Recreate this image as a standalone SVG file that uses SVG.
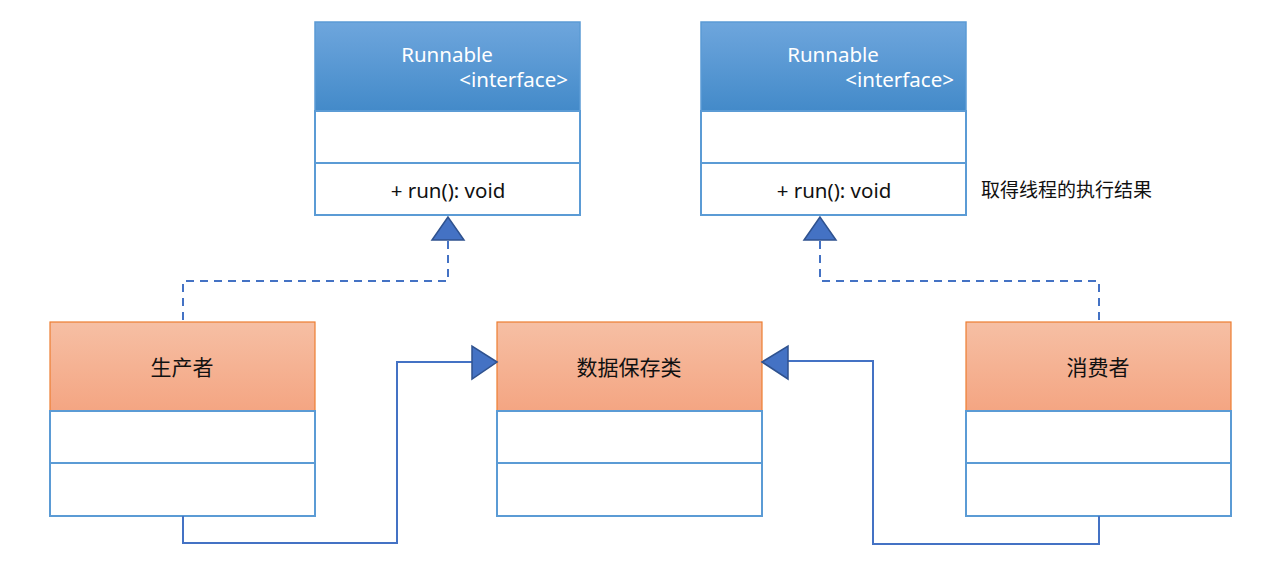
<svg xmlns="http://www.w3.org/2000/svg" width="1283" height="585" viewBox="0 0 1283 585">
<style>
text{font-family:"Noto Sans CJK SC","Noto Sans",sans-serif;}
.hdrB{fill:url(#gB);stroke:#5b9bd5;stroke-width:1.5}
.hdrO{fill:url(#gO);stroke:#ed7d31;stroke-width:1.2}
.box{fill:#fff;stroke:#5b9bd5;stroke-width:2}
.wt{fill:#fff;font-size:20.5px;font-family:"Noto Sans",sans-serif}
.lt{fill:#111;font-size:20.5px;font-family:"Noto Sans",sans-serif}
.bt{fill:#111;font-size:21px}
.dash{fill:none;stroke:#4472c4;stroke-width:2;stroke-dasharray:8,6}
.solid{fill:none;stroke:#4472c4;stroke-width:2}
.tri{fill:#4472c4;stroke:#2f528f;stroke-width:1.5}
</style>
<defs>
<linearGradient id="gB" x1="0" y1="0" x2="0" y2="1"><stop offset="0" stop-color="#6ea6dd"/><stop offset="1" stop-color="#438ac9"/></linearGradient>
<linearGradient id="gO" x1="0" y1="0" x2="0" y2="1"><stop offset="0" stop-color="#f6bfa4"/><stop offset="1" stop-color="#f4a582"/></linearGradient>
</defs>
<rect width="1283" height="585" fill="#fff"/>
<g id="runnable1">
<rect class="hdrB" x="315" y="22" width="265" height="89"/>
<rect class="box" x="315" y="111" width="265" height="52"/>
<rect class="box" x="315" y="163" width="265" height="52"/>
<text class="wt" x="447" y="62" text-anchor="middle">Runnable</text>
<text class="wt" x="568" y="87" text-anchor="end">&lt;interface&gt;</text>
<text class="lt" x="448" y="198" text-anchor="middle">+ run(): void</text>
</g>
<g id="runnable2">
<rect class="hdrB" x="701" y="22" width="265" height="89"/>
<rect class="box" x="701" y="111" width="265" height="52"/>
<rect class="box" x="701" y="163" width="265" height="52"/>
<text class="wt" x="833" y="62" text-anchor="middle">Runnable</text>
<text class="wt" x="954" y="87" text-anchor="end">&lt;interface&gt;</text>
<text class="lt" x="834" y="198" text-anchor="middle">+ run(): void</text>
</g>
<g id="note">
<text x="981" y="197" font-size="19" fill="#111">取得线程的执行结果</text>
</g>
<g id="producer">
<rect class="hdrO" x="50" y="322" width="265" height="89"/>
<rect class="box" x="50" y="411" width="265" height="52"/>
<rect class="box" x="50" y="463" width="265" height="53"/>
<text class="bt" x="182" y="375" text-anchor="middle">生产者</text>
</g>
<g id="datastore">
<rect class="hdrO" x="497" y="322" width="265" height="89"/>
<rect class="box" x="497" y="411" width="265" height="52"/>
<rect class="box" x="497" y="463" width="265" height="53"/>
<text class="bt" x="629" y="375" text-anchor="middle">数据保存类</text>
</g>
<g id="consumer">
<rect class="hdrO" x="966" y="322" width="265" height="89"/>
<rect class="box" x="966" y="411" width="265" height="52"/>
<rect class="box" x="966" y="463" width="265" height="53"/>
<text class="bt" x="1098" y="375" text-anchor="middle">消费者</text>
</g>
<g id="connectors">
<path class="dash" d="M183 320 V281 H448 V240"/>
<polygon class="tri" points="448,217 432,240 464,240"/>
<path class="dash" d="M1099 320 V281 H820 V240"/>
<polygon class="tri" points="820,217 804,240 836,240"/>
<path class="solid" d="M183 516 V543 H397 V362 H472"/>
<polygon class="tri" points="497,362 472,346 472,379"/>
<path class="solid" d="M1099 516 V544 H873 V361 H788"/>
<polygon class="tri" points="762,362 788,346 788,379"/>
</g>
</svg>
